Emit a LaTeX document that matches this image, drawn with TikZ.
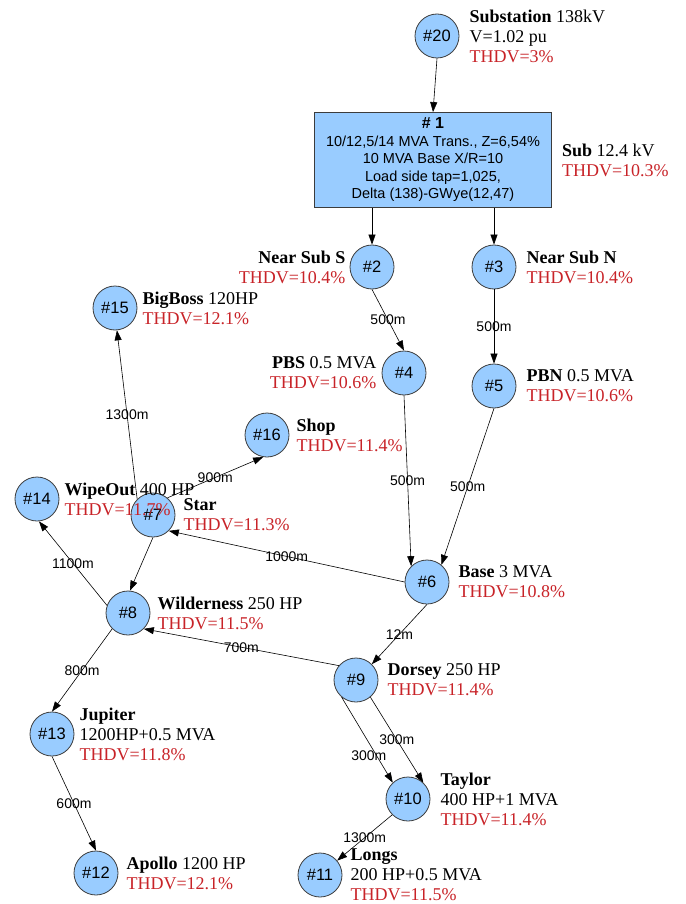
\documentclass[tikz,border=0pt]{standalone}
\usepackage{fontspec}
\setmainfont{Liberation Serif}
\newfontfamily\arial{Liberation Sans}
\usetikzlibrary{positioning,arrows.meta}

\definecolor{busfill}{RGB}{153,204,255}
\definecolor{busline}{RGB}{60,60,60}
\definecolor{thdred}{RGB}{200,35,40}
\newcommand{\thd}[1]{\textcolor{thdred}{THDV=#1\%}}

\begin{document}
\begin{tikzpicture}[x=1pt, y=-1pt,
    bus/.style = {draw=busline, circle, fill=busfill, line width=0.8pt, minimum size=44pt, inner sep=0pt, font=\arial\fontsize{16.5}{18}\selectfont},
    xfmr/.style = {draw=busline, fill=busfill, line width=0.8pt, minimum width=237pt, minimum height=95pt, align=center, font=\arial\fontsize{14.5}{17.5}\selectfont},
    info/.style = {inner sep=0pt, align=left, font=\fontsize{18}{20}\selectfont},
    len/.style = {inner sep=0pt, font=\arial\fontsize{14}{16}\selectfont},
    wire/.style = {-{Triangle[length=10pt,width=7pt]}, line width=0.6pt}]
    \useasboundingbox (0,0) rectangle (685,904);

    \node[bus] (20) at (437,36) {\#20};
    \node[xfmr] (1) at (433,160) {{\fontsize{16}{17.5}\selectfont\textbf{\# 1}}\\10/12,5/14 MVA Trans., Z=6,54\%\\10 MVA Base X/R=10\\Load side tap=1,025,\\Delta (138)-GWye(12,47)};
    \node[bus] (2) at (372,267) {\#2};
    \node[bus] (3) at (494,267) {\#3};
    \node[bus] (15) at (115,308) {\#15};
    \node[bus] (4) at (404,373) {\#4};
    \node[bus] (5) at (494,386) {\#5};
    \node[bus] (16) at (267,435) {\#16};
    \node[bus] (14) at (37,499) {\#14};
    \node[bus] (7) at (153,515) {\#7};
    \node[bus] (6) at (427,582) {\#6};
    \node[bus] (8) at (128,613) {\#8};
    \node[bus] (9) at (356,680) {\#9};
    \node[bus] (13) at (52,734) {\#13};
    \node[bus] (10) at (408,799) {\#10};
    \node[bus] (12) at (96,873) {\#12};
    \node[bus] (11) at (320,875) {\#11};

    \path[wire] (20.south) edge (1.north)
        (1.south -| 2) edge (2)
        (1.south -| 3) edge (3)
        (2.south) edge node[len] {500m} (4.north)
        (3) edge node[len] {500m} (5)
        (4.south) edge node[len] {500m} (6.135)
        (5.south) edge node[len] {500m} (6.50)
        (6.west) edge node[len] {1000m} (7.-45)
        (7.135) edge node[len] {1300m} (15.-85)
        (7.50) edge node[len] {900m} (16.-100)
        (7.south) edge (8.85)
        (8.160) edge node[len] {1100m} (14.-85)
        (6.south) edge node[len] {12m} (9.45)
        (9.140) edge node[len] {700m} (8.-45)
        (8.-135) edge node[len] {800m} (13.north)
        (13.south) edge node[len] {600m} (12.north)
        (9.-130) edge node[len, pos=0.69, xshift=-8pt] {300m} (10.133)
        (9.-50) edge node[len] {300m} (10.47)
        (10.-135) edge node[len] {1300m} (11.40);

    % bus data
    \node[info, right=10pt of 20] (i20) {\textbf{Substation} 138kV\\V=1.02 pu\\\thd{3}};
    \node[info, right=10pt of 1] (i1) {\textbf{Sub} 12.4 kV\\\thd{10.3}};
    \node[info, left=4pt of 2, align=right] (i2) {\textbf{Near Sub S}\\\thd{10.4}};
    \node[info, right=10pt of 3] (i3) {\textbf{Near Sub N}\\\thd{10.4}};
    \node[info, right=5pt of 15] (i15) {\textbf{BigBoss} 120HP\\\thd{12.1}};
    \node[info, left=5pt of 4, align=right] (i4) {\textbf{PBS} 0.5 MVA\\\thd{10.6}};
    \node[info, right=10pt of 5] (i5) {\textbf{PBN} 0.5 MVA\\\thd{10.6}};
    \node[info, right=7pt of 16] (i16) {\textbf{Shop}\\\thd{11.4}};
    \node[info, right=5pt of 14] (i14) {\textbf{WipeOut} 400 HP\\\thd{11.7}};
    \node[info, right=8pt of 7] (i7) {\textbf{Star}\\\thd{11.3}};
    \node[info, right=9pt of 6] (i6) {\textbf{Base} 3 MVA\\\thd{10.8}};
    \node[info, right=7pt of 8] (i8) {\textbf{Wilderness} 250 HP\\\thd{11.5}};
    \node[info, right=9pt of 9] (i9) {\textbf{Dorsey} 250 HP\\\thd{11.4}};
    \node[info, right=5pt of 13] (i13) {\textbf{Jupiter}\\1200HP+0.5 MVA\\\thd{11.8}};
    \node[info, right=10pt of 10] (i10) {\textbf{Taylor}\\400 HP+1 MVA\\\thd{11.4}};
    \node[info, right=8pt of 12] (i12) {\textbf{Apollo} 1200 HP\\\thd{12.1}};
    \node[info, right=8pt of 11] (i11) {\textbf{Longs}\\200 HP+0.5 MVA\\\thd{11.5}};
\end{tikzpicture}
\end{document}
